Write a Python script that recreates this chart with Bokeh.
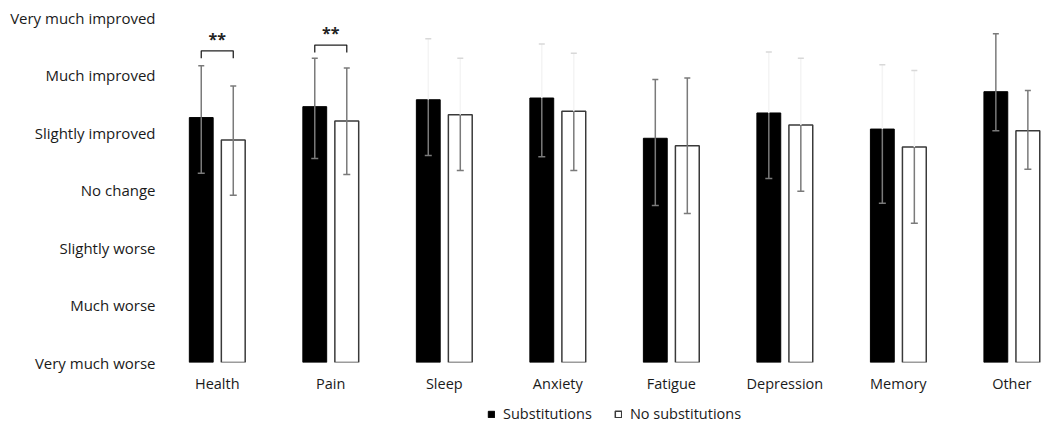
import numpy as np
from bokeh.plotting import figure
from bokeh.layouts import column
from bokeh.models import Range1d, FixedTicker, Legend, LegendItem
from bokeh.core.properties import value
from bokeh.embed import file_html
from bokeh.resources import INLINE

# ---------------- data ----------------
categories = ["Health", "Pain", "Sleep", "Anxiety", "Fatigue", "Depression", "Memory", "Other"]
scale_values = [-3, -2, -1, 0, 1, 2, 3]
scale_labels = ["Very much worse", "Much worse", "Slightly worse", "No change",
                "Slightly improved", "Much improved", "Very much improved"]

subs_mean = [1.26, 1.45, 1.57, 1.60, 0.90, 1.34, 1.06, 1.71]
subs_lo = [0.29, 0.55, 0.60, 0.58, -0.27, 0.20, -0.23, 1.03]
subs_hi = [2.16, 2.29, 2.63, 2.54, 1.92, 2.40, 2.18, 2.72]

nosubs_mean = [0.87, 1.20, 1.31, 1.37, 0.77, 1.13, 0.75, 1.03]
nosubs_lo = [-0.09, 0.27, 0.34, 0.34, -0.41, -0.02, -0.58, 0.36]
nosubs_hi = [1.81, 2.12, 2.29, 2.38, 1.95, 2.29, 2.08, 1.73]

sig_categories = ["Health", "Pain"]
sig_labels = ["**", "**"]
sig_level = [2.42, 2.52]

series_names = ["Substitutions", "No substitutions"]

# ---------------- style ----------------
FONT = "Open Sans"
TXT = "#1a1a1a"
ERR = "#7a7a7a"
ERR_FAINT = "#f4f4f4"
ERR_FAINT_CAP = "#d8d8d8"
upper_faint = [False, False, True, True, False, True, True, False]
OFF = 0.141
BW = 0.21
BASE = scale_values[0]
BLACK_STYLE = dict(fill_color="black", line_color="black")
WHITE_STYLE = dict(fill_color="white", line_color="#3a3a3a", line_width=1.5)

p = figure(frame_width=882, frame_height=354, output_backend="svg", toolbar_location=None,
           x_range=Range1d(-0.5, 7.27), y_range=Range1d(BASE, 3.157),
           min_border_left=160, min_border_right=0, min_border_top=8, min_border_bottom=40)
p.outline_line_color = None
p.xgrid.grid_line_color = None
p.ygrid.grid_line_color = None
p.background_fill_color = "white"
p.border_fill_color = "white"

xs = np.arange(len(categories))
xb = xs - OFF
xw = xs + OFF

p.vbar(x=xb, width=BW, bottom=BASE, top=subs_mean, **BLACK_STYLE)
p.vbar(x=xw, width=BW, bottom=BASE, top=nosubs_mean, **WHITE_STYLE)

def err(xpos, lo, mean, hi):
    up_cols = [ERR_FAINT if f else ERR for f in upper_faint]
    cap_cols = [ERR_FAINT_CAP if f else ERR for f in upper_faint]
    p.segment(x0=xpos, y0=lo, x1=xpos, y1=mean, line_color=ERR, line_width=1.5)
    p.segment(x0=xpos, y0=mean, x1=xpos, y1=hi, line_color=up_cols, line_width=1.5)
    p.scatter(x=xpos, y=lo, marker="dash", size=7, line_color=ERR, line_width=1.5)
    p.scatter(x=xpos, y=hi, marker="dash", size=6, line_color=cap_cols, line_width=1.5)

err(xb, subs_lo, subs_mean, subs_hi)
err(xw, nosubs_lo, nosubs_mean, nosubs_hi)

# significance brackets
LEG = 0.13
bx, by, tx, ty = [], [], [], []
for c, lvl in zip(sig_categories, sig_level):
    i = categories.index(c)
    bx.append([i - OFF, i - OFF, i + OFF, i + OFF])
    by.append([lvl - LEG, lvl, lvl, lvl - LEG])
    tx.append(i)
    ty.append(lvl + 0.02)
p.multi_line(xs=bx, ys=by, line_color="#222222", line_width=1.3)
p.text(x=tx, y=ty, text=sig_labels, text_align="center", text_baseline="bottom",
       text_font=value(FONT), text_font_size="16px", text_font_style="bold", text_color="#222222")

# axes
p.yaxis.ticker = FixedTicker(ticks=scale_values)
p.yaxis.major_label_overrides = {v: l for v, l in zip(scale_values, scale_labels)}
p.xaxis.ticker = FixedTicker(ticks=list(range(len(categories))))
p.xaxis.major_label_overrides = {i: c for i, c in enumerate(categories)}
for ax in (p.xaxis, p.yaxis):
    ax.axis_line_color = None
    ax.major_tick_line_color = None
    ax.minor_tick_line_color = None
    ax.major_tick_out = 0
    ax.major_tick_in = 0
    ax.major_label_text_font = FONT
    ax.major_label_text_color = TXT
p.yaxis.major_label_text_font_size = "15px"
p.xaxis.major_label_text_font_size = "14.5px"
p.yaxis.major_label_standoff = 5
p.xaxis.major_label_standoff = 11

# legend strip underneath (hidden renderers only serve as legend glyph sources)
pl = figure(frame_width=1042, frame_height=30, output_backend="svg", toolbar_location=None,
            x_range=Range1d(-0.5, 7.27), y_range=Range1d(100, 101),
            min_border_left=0, min_border_right=0, min_border_top=0, min_border_bottom=0)
pl.axis.visible = False
pl.grid.grid_line_color = None
pl.outline_line_color = None
pl.background_fill_color = "white"
pl.border_fill_color = "white"
lb = pl.vbar(x=xb, width=BW, bottom=BASE, top=subs_mean, **BLACK_STYLE)
lw = pl.vbar(x=xw, width=BW, bottom=BASE, top=nosubs_mean, **WHITE_STYLE)
lb.visible = False
lw.visible = False
legend = Legend(items=[LegendItem(label=series_names[0], renderers=[lb]),
                       LegendItem(label=series_names[1], renderers=[lw])],
                orientation="horizontal", location=(487, 9),
                glyph_width=8, glyph_height=8, label_standoff=8, spacing=22,
                label_height=16, inactive_fill_alpha=0,
                label_text_font=FONT, label_text_font_size="14.5px", label_text_color=TXT,
                border_line_color=None, background_fill_alpha=0, padding=0, margin=0)
pl.add_layout(legend, "center")

layout = column(p, pl, spacing=0)
open("out.html", "w").write(file_html(layout, INLINE))
